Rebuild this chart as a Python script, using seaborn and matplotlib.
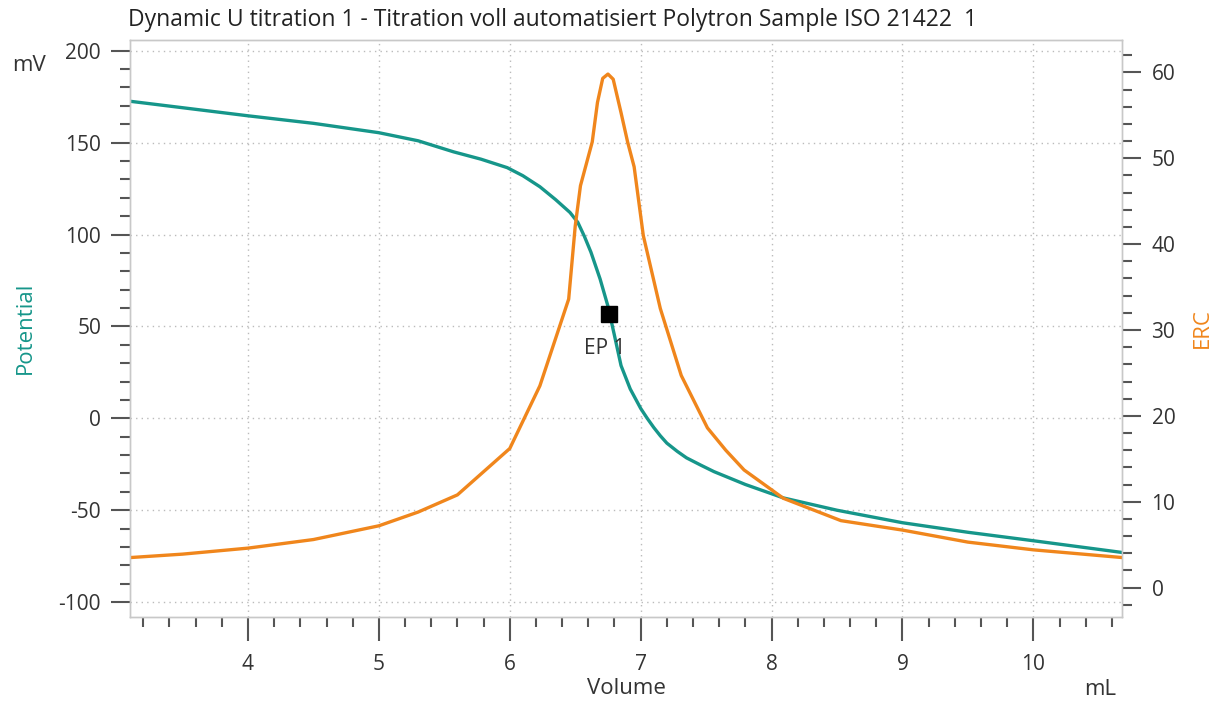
import matplotlib
matplotlib.use('Agg')
import matplotlib.pyplot as plt
from matplotlib.ticker import MultipleLocator
import seaborn as sns
import pandas as pd

sns.set_theme(style="white")
plt.rcParams['font.family'] = ['Open Sans', 'DejaVu Sans']
plt.rcParams['axes.unicode_minus'] = False

# --- data ---
vol_pot = [3.1, 3.5, 4.0, 4.5, 5.0, 5.3, 5.57, 5.78, 5.98, 6.1, 6.23, 6.35, 6.46, 6.52,
           6.57, 6.62, 6.69, 6.75, 6.8, 6.85, 6.92, 7.0, 7.05, 7.1, 7.15, 7.2, 7.28,
           7.35, 7.46, 7.56, 7.8, 8.09, 8.5, 9.0, 9.5, 10.0, 10.68]
potential = [172.5, 169, 164.6, 160.5, 155.4, 151, 145, 141, 136.4, 132, 126, 119, 112, 106.6,
             99, 90.4, 75.8, 61, 45, 28.7, 16, 5.4, 0, -5, -9.5, -13.5, -18,
             -21.5, -25.5, -29, -36, -43.3, -50, -56.8, -62, -66.6, -73]

vol_erc = [3.1, 3.5, 4.0, 4.5, 5.0, 5.3, 5.6, 6.0, 6.23, 6.45, 6.50, 6.54, 6.63, 6.67,
           6.71, 6.75, 6.79, 6.85, 6.90, 6.95, 7.02, 7.15, 7.31, 7.51, 7.65, 7.79,
           8.09, 8.53, 9.0, 9.5, 10.0, 10.68]
erc = [3.5, 3.9, 4.6, 5.6, 7.2, 8.8, 10.8, 16.2, 23.5, 33.6, 42.1, 46.8, 51.9, 56.5,
       59.3, 59.8, 59.2, 55.3, 51.9, 49.0, 41.0, 32.5, 24.7, 18.6, 16.0, 13.7,
       10.4, 7.8, 6.7, 5.3, 4.4, 3.5]

ep_volume = [6.755]
ep_potential = [57]
ep_label = "EP 1"

title = "Dynamic U titration 1 - Titration voll automatisiert Polytron Sample ISO 21422  1"

TEAL = "#16968a"
ORANGE = "#f0861c"
TICK = "#555555"
FRAME = "#c8c8c8"
TEXT = "#333333"

df_pot = pd.DataFrame({'Volume': vol_pot, 'Potential': potential})
df_erc = pd.DataFrame({'Volume': vol_erc, 'ERC': erc})

fig = plt.figure(figsize=(12.28, 7.09), dpi=100)
ax = fig.add_axes([0.106, 0.13, 0.808, 0.814])
ax2 = ax.twinx()

sns.lineplot(data=df_pot, x='Volume', y='Potential', ax=ax, color=TEAL, lw=2.4, sort=False)
sns.lineplot(data=df_erc, x='Volume', y='ERC', ax=ax2, color=ORANGE, lw=2.4, sort=False)
ax.plot(ep_volume, ep_potential, 's', color='black', ms=11, zorder=5)
ax.annotate(ep_label, (ep_volume[0], ep_potential[0]), xytext=(-3, -25),
            textcoords='offset points', ha='center', va='center',
            fontsize=15, color=TEXT)

ax.set_xlim(3.1, 10.68)
ax.set_ylim(-108, 206)
ax2.set_ylim(-3.4, 63.8)

ax.xaxis.set_major_locator(MultipleLocator(1))
ax.xaxis.set_minor_locator(MultipleLocator(0.2))
ax.yaxis.set_major_locator(MultipleLocator(50))
ax.yaxis.set_minor_locator(MultipleLocator(10))
ax2.yaxis.set_major_locator(MultipleLocator(10))
ax2.yaxis.set_minor_locator(MultipleLocator(2))

for a in (ax, ax2):
    for s in a.spines.values():
        s.set_color(FRAME)
        s.set_linewidth(1)
    a.tick_params(which='major', direction='out', length=14, width=1.5, color=TICK,
                  labelsize=15, labelcolor=TEXT, pad=7)
    a.tick_params(which='minor', direction='out', length=7, width=1.5, color=TICK)
ax.tick_params(axis='x', which='major', length=17, pad=10)
ax.tick_params(axis='both', which='both', bottom=True, left=True)
ax2.tick_params(axis='y', which='both', right=True)

ax.grid(True, which='major', linestyle=(0, (1, 3)), color='#bbbbbb', lw=1)
ax.set_axisbelow(True)

ax.set_xlabel('Volume', fontsize=16, color=TEXT, labelpad=2)
ax.set_ylabel('Potential', fontsize=16, color=TEAL, labelpad=16)
ax2.set_ylabel('ERC', fontsize=16, color=ORANGE, rotation=90, labelpad=12)

fig.text(0.01, 0.9, 'mV', fontsize=16, color=TEXT)
fig.text(0.883, 0.02, 'mL', fontsize=16, color=TEXT)
fig.text(0.104, 0.972, title, fontsize=16.5, color='#222222', va='center')

fig.savefig('out.png', dpi=100)
